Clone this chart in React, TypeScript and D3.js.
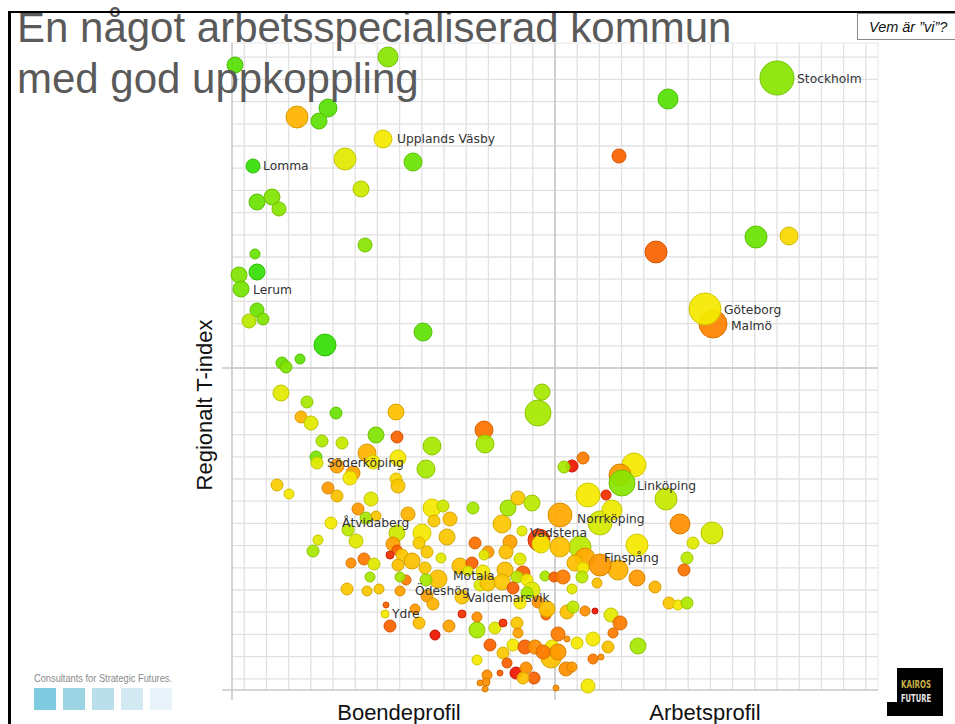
import React from "react";
import * as d3 from "d3";

// Each record: [Boendeprofil/Arbetsprofil index, Regionalt T-index, size (pop), tone 0=green..100=red]
type Rec = [number, number, number, number];

const northWest: Rec[] = [
  [-320, 303, 64, 10], [-167, 311, 100, 22], [-258, 251, 121, 65], [-227, 260, 81, 10],
  [-236, 247, 64, 12], [-172, 229, 81, 50], [-210, 209, 121, 45], [-142, 206, 81, 15],
  [-302, 202, 49, 2], [-194, 179, 64, 40], [-298, 166, 64, 15], [-283, 171, 64, 20],
  [-276, 159, 49, 22], [-190, 123, 49, 22], [-300, 114, 25, 15], [-316, 93, 64, 20],
  [-298, 96, 64, 2], [-314, 79, 64, 18], [-298, 58, 49, 15], [-306, 47, 49, 35],
  [-292, 49, 36, 20], [-132, 36, 81, 12], [-230, 23, 121, 2], [-255, 9, 25, 12],
  [-273, 5, 36, 15], [-269, 1, 36, 20],
];

const northEast: Rec[] = [
  [222, 290, 289, 22], [113, 269, 100, 10], [64, 212, 49, 85], [201, 131, 121, 15],
  [234, 132, 81, 55], [101, 116, 121, 85], [158, 44, 196, 78], [150, 59, 256, 50],
];

const southWest: Rec[] = [
  [-274, -25, 64, 45], [-248, -34, 36, 30], [-254, -49, 36, 65], [-244, -55, 49, 45],
  [-219, -45, 36, 15], [-159, -44, 64, 62], [-179, -67, 64, 20], [-158, -69, 36, 85],
  [-233, -73, 36, 32], [-213, -75, 36, 38], [-123, -78, 81, 30], [-239, -89, 36, 18],
  [-238, -95, 36, 45], [-188, -85, 81, 65], [-182, -94, 49, 50], [-157, -90, 64, 50],
  [-129, -101, 81, 30], [-202, -105, 49, 70], [-218, -98, 49, 70], [-205, -110, 49, 50],
  [-159, -111, 36, 55], [-157, -118, 49, 60], [-278, -117, 36, 58], [-266, -126, 25, 50],
  [-227, -120, 36, 72], [-218, -128, 36, 62], [-184, -131, 49, 45], [-197, -141, 36, 72],
  [-189, -150, 36, 30], [-224, -155, 36, 50], [-147, -146, 49, 65], [-123, -140, 81, 50],
  [-121, -153, 36, 60], [-105, -151, 49, 62], [-112, -138, 36, 40], [-82, -140, 36, 30],
  [-179, -148, 25, 60], [-207, -162, 36, 35], [-237, -172, 25, 45], [-242, -183, 36, 30],
  [-199, -173, 49, 45], [-158, -165, 64, 40], [-162, -176, 49, 70], [-133, -165, 81, 50],
  [-136, -175, 36, 58], [-128, -184, 36, 60], [-108, -169, 64, 60], [-80, -175, 36, 82],
  [-158, -182, 25, 85], [-165, -187, 16, 95], [-153, -187, 36, 60], [-204, -195, 25, 75],
  [-191, -191, 36, 80], [-181, -196, 36, 45], [-185, -209, 25, 30], [-157, -197, 36, 62],
  [-143, -193, 64, 62], [-130, -200, 36, 60], [-114, -190, 25, 45], [-95, -198, 64, 62],
  [-83, -195, 36, 85], [-117, -211, 81, 62], [-129, -212, 36, 30], [-149, -212, 25, 80],
  [-155, -209, 25, 30], [-208, -221, 36, 60], [-188, -223, 25, 60], [-176, -221, 25, 60],
  [-155, -223, 25, 70], [-128, -228, 36, 70], [-122, -236, 36, 65], [-169, -237, 9, 85],
  [-170, -246, 16, 50], [-165, -258, 36, 85], [-140, -241, 25, 72], [-136, -255, 36, 62],
  [-120, -267, 25, 100], [-106, -258, 36, 70], [-93, -246, 16, 95], [-78, -262, 64, 30],
  [-78, -292, 25, 50], [-93, -229, 49, 60],
];

const southCenter: Rec[] = [
  [-53, -156, 81, 60], [-47, -140, 64, 30], [-37, -130, 49, 60], [-23, -135, 64, 35],
  [-33, -163, 25, 45], [-16, -172, 121, 92], [-14, -176, 81, 50], [-67, -184, 36, 72],
  [-71, -187, 25, 45], [-45, -174, 49, 70], [-49, -184, 49, 62], [-35, -191, 36, 45],
  [-87, -203, 25, 45], [-72, -204, 49, 50], [-50, -202, 64, 62], [-32, -205, 49, 85],
  [-38, -209, 36, 35], [-28, -212, 36, 50], [-10, -208, 25, 30], [-1, -209, 25, 85],
  [-75, -217, 36, 45], [-67, -215, 64, 60], [-53, -214, 64, 60], [-42, -220, 36, 85],
  [-23, -222, 64, 45], [-28, -225, 36, 30], [-35, -235, 36, 50], [-17, -234, 36, 75],
  [-9, -247, 25, 85], [-78, -249, 25, 75], [-60, -260, 36, 45], [-52, -255, 16, 95],
  [-38, -255, 36, 60], [-37, -265, 25, 70], [-65, -277, 36, 85], [-52, -285, 36, 60],
  [-42, -277, 36, 50], [-30, -279, 49, 85], [-20, -279, 49, 75], [-3, -279, 49, 50],
  [-4, -290, 100, 62], [-48, -295, 25, 85], [-39, -305, 36, 100], [-55, -305, 9, 85],
  [-29, -300, 36, 75], [-21, -310, 36, 85], [-32, -310, 36, 62], [-68, -307, 25, 75],
  [-69, -314, 16, 75], [-75, -315, 9, 75], [-70, -321, 9, 75],
];

const southEast: Rec[] = [
  [-13, -24, 64, 30], [-17, -45, 169, 30], [-71, -62, 81, 82], [-70, -76, 81, 30],
  [17, -98, 36, 100], [9, -99, 36, 30], [28, -90, 36, 80], [79, -97, 144, 50],
  [65, -107, 121, 72], [67, -115, 169, 22], [33, -127, 144, 50], [51, -127, 25, 95],
  [111, -131, 121, 38], [125, -156, 100, 75], [157, -165, 121, 42], [138, -175, 36, 45],
  [132, -190, 36, 35], [129, -202, 36, 82], [114, -235, 36, 60], [123, -237, 25, 50],
  [132, -235, 36, 32], [82, -177, 121, 50], [63, -202, 100, 65], [82, -210, 64, 72],
  [100, -219, 36, 65], [5, -147, 144, 68], [45, -155, 144, 42], [57, -142, 100, 48],
  [25, -179, 121, 35], [5, -179, 100, 62], [30, -190, 100, 68], [45, -197, 121, 72],
  [20, -195, 64, 62], [28, -200, 36, 50], [8, -209, 49, 80], [27, -209, 36, 35],
  [42, -215, 25, 62], [17, -221, 25, 45], [12, -244, 49, 62], [30, -243, 25, 75],
  [40, -243, 9, 100], [18, -239, 36, 35], [56, -247, 49, 45], [65, -255, 49, 80],
  [58, -265, 25, 80], [38, -271, 49, 50], [53, -279, 36, 62], [83, -278, 64, 30],
  [38, -291, 25, 80], [3, -266, 49, 80], [22, -275, 36, 50], [12, -271, 9, 75],
  [33, -318, 49, 50], [1, -320, 9, 75], [-8, -241, 64, 62], [3, -284, 64, 72],
  [-12, -284, 49, 80], [11, -301, 49, 75], [17, -299, 25, 72], [46, -289, 9, 75],
];

const labelNames = [
  "Stockholm", "Upplands Väsby", "Lomma", "Lerum", "Göteborg", "Malmö", "Söderköping",
  "Linköping", "Åtvidaberg", "Norrköping", "Vadstena", "Finspång", "Motala", "Ödeshög",
  "Valdemarsvik", "Ydre",
];
const labelX = [242, -158, -292, -302, 169, 176, -228, 82, -213, 22, -25, 49, -102, -140, -88, -163];
const labelY = [285, 225, 198, 74, 54, 38, -99, -122, -159, -155, -169, -194, -212, -227, -234, -250];

const titleLines = ["En något arbetsspecialiserad kommun", "med god uppkoppling"];
const xAxisLabels = ["Boendeprofil", "Arbetsprofil"];
const yAxisLabel = "Regionalt T-index";
const toneStops = [0, 25, 50, 65, 80, 100];
const toneColors = ["#2ede08", "#94e600", "#f4ea00", "#ffb400", "#ff7c00", "#ee1500"];
const logoSquares = ["#7ecbdf", "#9dd4e4", "#badfeb", "#d3eaf2", "#e7f3f8"];

export default function App() {
  const W = 955, H = 724;
  const x = d3.scaleLinear().domain([-323, 323]).range([232, 878]);
  const y = d3.scaleLinear().domain([-322, 325]).range([690, 43]);
  const r = d3.scaleSqrt().domain([0, 400]).range([0, 20]);
  const tone = d3.scaleLinear<string>().domain(toneStops).range(toneColors).interpolate(d3.interpolateRgb);

  const step = 22.2;
  const xTicks = d3.range(-14, 15).map((k) => k * step).filter((v) => v > -323 && v < 323);
  const yTicks = d3.range(-14, 15).map((k) => k * step).filter((v) => v > -322 && v < 325);

  const all: Rec[] = [...northWest, ...northEast, ...southWest, ...southCenter, ...southEast];

  return (
    <svg width={W} height={H} style={{ position: "absolute", left: 0, top: 0, display: "block", background: "#fff" }}>
      <rect x={0} y={0} width={W} height={H} fill="#fff" />
      {/* grid */}
      <g>
        {xTicks.map((v, i) => (
          <line key={"gx" + i} x1={x(v)} x2={x(v)} y1={y(325)} y2={y(-322)} stroke="#e1e1e1" strokeWidth={1.3} />
        ))}
        {yTicks.map((v, i) => (
          <line key={"gy" + i} x1={x(-323)} x2={x(323)} y1={y(v)} y2={y(v)} stroke="#e1e1e1" strokeWidth={1.3} />
        ))}
        <line x1={x(-323)} x2={x(323)} y1={y(325)} y2={y(325)} stroke="#e6e6e6" strokeWidth={1} />
        <line x1={x(323)} x2={x(323)} y1={y(325)} y2={y(-322)} stroke="#e6e6e6" strokeWidth={1} />
        <line x1={x(0)} x2={x(0)} y1={y(325)} y2={y(-332)} stroke="#c9c9c9" strokeWidth={1.6} />
        <line x1={x(-333)} x2={x(323)} y1={y(0)} y2={y(0)} stroke="#c9c9c9" strokeWidth={1.6} />
        <line x1={x(-323)} x2={x(-323)} y1={y(325)} y2={y(-332)} stroke="#c9c9c9" strokeWidth={1.6} />
        <line x1={x(-333)} x2={x(323)} y1={y(-322)} y2={y(-322)} stroke="#c9c9c9" strokeWidth={1.6} />
      </g>
      {/* bubbles */}
      <g>
        {all.map((d, i) => {
          const f = tone(d[3]);
          return (
            <circle
              key={i}
              cx={x(d[0])}
              cy={y(d[1])}
              r={r(d[2])}
              fill={f}
              fillOpacity={0.93}
              stroke={d3.color(f)!.darker(0.45).formatHex()}
              strokeWidth={1}
            />
          );
        })}
      </g>
      {/* labels */}
      <g fontFamily="DejaVu Sans, Verdana, sans-serif" fontSize={12.3} fill="#333">
        {labelNames.map((n, i) => (
          <text key={n} x={x(labelX[i])} y={y(labelY[i])}>
            {n}
          </text>
        ))}
      </g>
      {/* title */}
      <g fontFamily="Liberation Sans, Arial, sans-serif" fontSize={42} fill="#5a5a5a">
        <text x={17} y={42}>{titleLines[0]}</text>
        <text x={17} y={93}>{titleLines[1]}</text>
      </g>
      {/* frame */}
      <line x1={8} x2={955} y1={12} y2={12} stroke="#000" strokeWidth={2} />
      <line x1={9.5} x2={9.5} y1={11} y2={724} stroke="#000" strokeWidth={3} />
      <rect x={857.5} y={13.5} width={100} height={26} fill="#fff" stroke="#8a8a8a" strokeWidth={1} />
      <text x={869} y={32} fontFamily="Liberation Sans, Arial, sans-serif" fontStyle="italic" fontSize={14.5} fill="#111">
        Vem är ”vi”?
      </text>
      {/* axis titles */}
      <g fontFamily="Liberation Sans, Arial, sans-serif" fontSize={22} fill="#111" textAnchor="middle">
        <text x={399} y={720}>{xAxisLabels[0]}</text>
        <text x={705} y={720}>{xAxisLabels[1]}</text>
        <text transform="translate(212,405) rotate(-90)">{yAxisLabel}</text>
      </g>
      {/* logo left */}
      <text x={34} y={682} fontFamily="Liberation Sans, Arial, sans-serif" fontSize={10.5} fill="#8a8a8a" textLength={138} lengthAdjust="spacingAndGlyphs">
        Consultants for Strategic Futures.
      </text>
      {logoSquares.map((c, i) => (
        <rect key={c} x={34 + i * 29} y={688} width={22} height={22} fill={c} />
      ))}
      {/* logo right */}
      <rect x={897} y={668} width={46} height={48} fill="#000" />
      <rect x={887} y={702} width={12} height={14} fill="#000" />
      <text x={901} y={688} fontFamily="DejaVu Sans Condensed, DejaVu Sans, sans-serif" fontWeight="bold" fontSize={10} fill="#c9b24a" textLength={30} lengthAdjust="spacingAndGlyphs">KAIROS</text>
      <text x={901} y={702} fontFamily="DejaVu Sans Condensed, DejaVu Sans, sans-serif" fontWeight="bold" fontSize={10} fill="#e8e8e8" textLength={30} lengthAdjust="spacingAndGlyphs">FUTURE</text>
    </svg>
  );
}
